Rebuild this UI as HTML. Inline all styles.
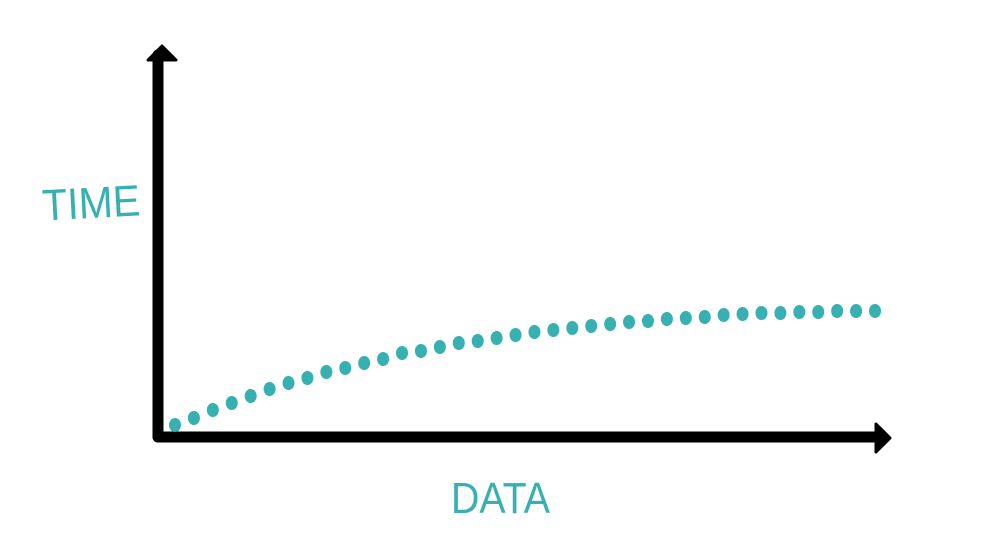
<!DOCTYPE html>
<html><head><meta charset="utf-8"><style>
html,body{margin:0;padding:0;background:#fff;width:1000px;height:560px;overflow:hidden}
</style></head><body>
<svg width="1000" height="560" viewBox="0 0 1000 560">
  <g>
    <line x1="158" y1="437" x2="158" y2="55" stroke="#000" stroke-width="11" stroke-linecap="round"/>
    <polygon points="148,60 162,46 176,60" fill="#000" stroke="#000" stroke-width="3" stroke-linejoin="round"/>
  </g>
  <g>
    <line x1="158" y1="437" x2="880" y2="437" stroke="#000" stroke-width="11" stroke-linecap="round"/>
    <polygon points="876,424 890,438 876,452" fill="#000" stroke="#000" stroke-width="3" stroke-linejoin="round"/>
  </g>
  <text x="42" y="218" textLength="98" lengthAdjust="spacingAndGlyphs" font-family="Liberation Sans Narrow, Liberation Sans, sans-serif" font-size="44" fill="#36b0b0" transform="rotate(-3 90 200)">TIME</text>
  <text x="451" y="513" textLength="99" lengthAdjust="spacingAndGlyphs" font-family="Liberation Sans Narrow, Liberation Sans, sans-serif" font-size="44" fill="#36b0b0">DATA</text>
  <g id="series"></g>
</svg>
<script>
const categories = Array.from({length:38},(_,i)=>i);
const values = [12,19,27,34,41,48,54,59,65,69,74,78,84,86,90,94,96,99,102,105,107,109,111,113,115,116,118,119,120,122,123,124,124,125,125,126,126,126];
const xScale = i => 175 + i * (700 / (categories.length - 1));
const yScale = v => 437 - v;
const g = document.getElementById('series');
categories.forEach((c,i)=>{
  const e = document.createElementNS('http://www.w3.org/2000/svg','ellipse');
  e.setAttribute('cx', xScale(c));
  e.setAttribute('cy', yScale(values[i]));
  e.setAttribute('rx', 6);
  e.setAttribute('ry', 7);
  e.setAttribute('fill', '#36b0b0');
  
  
  g.appendChild(e);
});
</script>
</body></html>
